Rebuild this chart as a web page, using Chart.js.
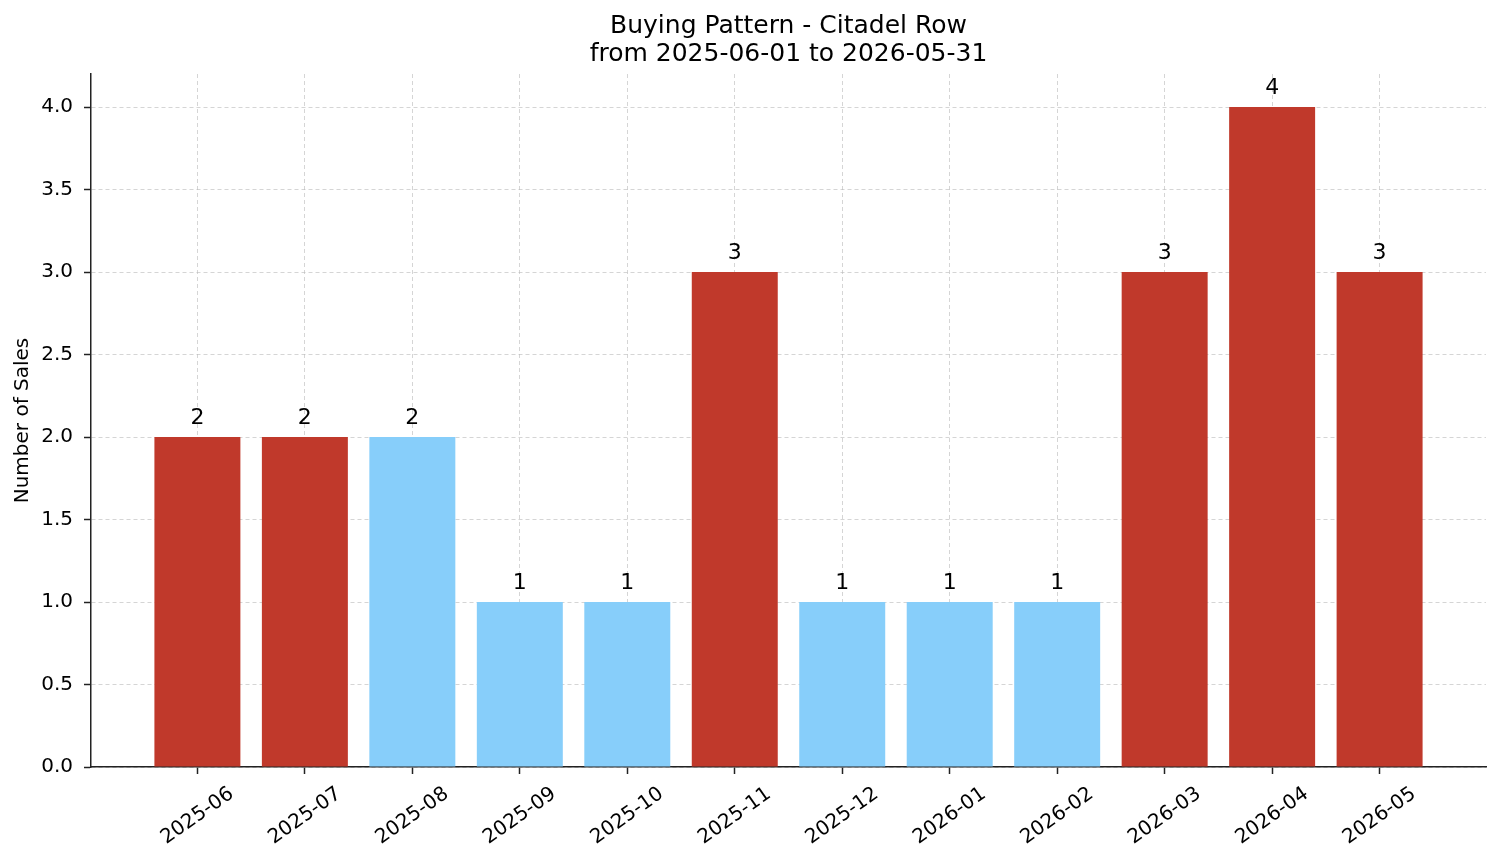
<!DOCTYPE html>
<html>
<head>
<meta charset="utf-8">
<script src="https://cdn.jsdelivr.net/npm/chart.js@4/dist/chart.umd.min.js"></script>
<style>
  html, body { margin: 0; padding: 0; background: #fff; }
  #wrap { width: 1501px; height: 863px; }
</style>
</head>
<body>
<div id="wrap"><canvas id="salesChart"></canvas></div>
<script>
const months = ["2025-06", "2025-07", "2025-08", "2025-09", "2025-10", "2025-11",
                "2025-12", "2026-01", "2026-02", "2026-03", "2026-04", "2026-05"];
const sales = [2, 2, 2, 1, 1, 3, 1, 1, 1, 3, 4, 3];
// which months are highlighted (red) in the reference
const highlighted = [true, true, false, false, false, true, false, false, false, true, true, true];
const yTicks = [0, 0.5, 1, 1.5, 2, 2.5, 3, 3.5, 4];

const titleLines = ["Buying Pattern - Citadel Row", "from 2025-06-01 to 2026-05-31"];
const yTitle = "Number of Sales";

const RED = "#c0392b";
const BLUE = "#87cefa";
const FONT = "'DejaVu Sans', sans-serif";
const gridColor = "rgba(185,185,185,0.6)";

// title, y label, rotated month labels, value labels
const extras = {
  id: "extras",
  afterDraw(chart) {
    const ctx = chart.ctx;
    const area = chart.chartArea;
    const xs = chart.scales.x;
    const ys = chart.scales.y;
    ctx.save();
    ctx.fillStyle = "#000";

    // title
    ctx.font = "25px " + FONT;
    ctx.textAlign = "center";
    ctx.textBaseline = "alphabetic";
    const cx = (area.left + area.right) / 2;
    ctx.fillText(titleLines[0], cx, 33);
    ctx.fillText(titleLines[1], cx, 61);

    // y axis title
    ctx.save();
    ctx.font = "20px " + FONT;
    ctx.translate(28, (area.top + area.bottom) / 2);
    ctx.rotate(-Math.PI / 2);
    ctx.fillText(yTitle, 0, 0);
    ctx.restore();

    // rotated month labels
    ctx.font = "20px " + FONT;
    ctx.textBaseline = "middle";
    months.forEach((m, i) => {
      const px = xs.getPixelForValue(i);
      ctx.save();
      ctx.translate(px, area.bottom + 49);
      ctx.rotate(-35 * Math.PI / 180);
      ctx.fillText(m, 0, 0);
      ctx.restore();
    });

    // value labels
    ctx.font = "22px " + FONT;
    ctx.textBaseline = "alphabetic";
    sales.forEach((v, i) => {
      ctx.fillText(String(v), xs.getPixelForValue(i), ys.getPixelForValue(v) - 13);
    });
    ctx.restore();
  }
};

const gridOpts = {
  color: gridColor,
  lineWidth: 1,
  offset: false,
  drawTicks: true,
  tickLength: 7,
  tickColor: "#222",
  tickBorderDash: [100, 0],
  tickWidth: 1.5
};
const borderOpts = { display: true, color: "#222", width: 1.5, dash: [4, 3] };

new Chart(document.getElementById("salesChart"), {
  type: "bar",
  data: {
    datasets: [{
      data: sales.map((v, i) => ({ x: i, y: v })),
      backgroundColor: highlighted.map(h => h ? RED : BLUE),
      borderWidth: 0,
      barPercentage: 0.8,
      categoryPercentage: 1.0
    }]
  },
  options: {
    responsive: true,
    maintainAspectRatio: false,
    animation: false,
    devicePixelRatio: 1,
    layout: { padding: { top: 74, right: 15, left: 0, bottom: 0 } },
    plugins: {
      legend: { display: false },
      tooltip: { enabled: false }
    },
    scales: {
      x: {
        type: "linear",
        min: -0.99,
        max: 11.99,
        offset: false,
        z: 1,
        afterBuildTicks: scale => { scale.ticks = months.map((m, i) => ({ value: i })); },
        afterFit: scale => { scale.height = 96; },
        ticks: { display: false },
        grid: gridOpts,
        border: borderOpts
      },
      y: {
        min: 0,
        max: 4.2,
        z: 1,
        afterBuildTicks: scale => { scale.ticks = yTicks.map(v => ({ value: v })); },
        afterFit: scale => { scale.width = 91; },
        ticks: {
          color: "#000",
          font: { family: FONT, size: 20 },
          padding: 11,
          callback: v => Number(v).toFixed(1)
        },
        grid: gridOpts,
        border: borderOpts
      }
    }
  },
  plugins: [extras]
});
</script>
</body>
</html>
